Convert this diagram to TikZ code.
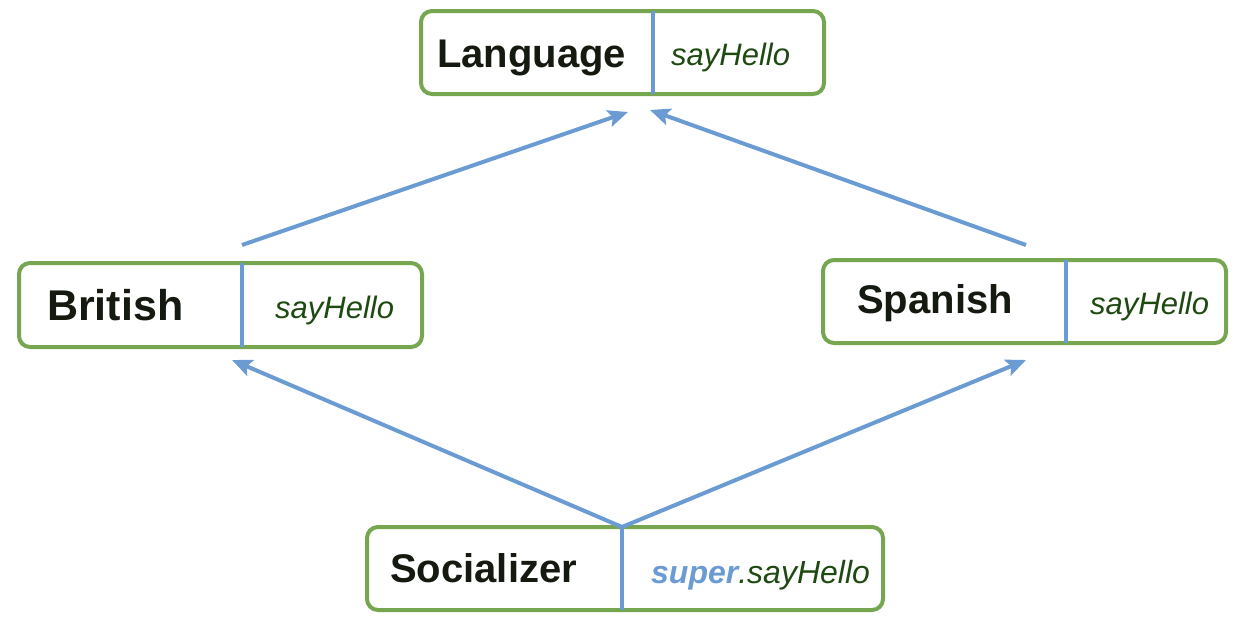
\documentclass[tikz,border=0pt]{standalone}
\usepackage{fontspec}
\setmainfont{Liberation Sans}
\usetikzlibrary{arrows.meta}
\definecolor{boxgreen}{HTML}{76A650}
\definecolor{linkblue}{HTML}{6A9BD2}
\definecolor{methgreen}{HTML}{1E4A12}
\definecolor{namedark}{HTML}{151A10}
\tikzset{
  classbox/.style={draw=boxgreen, line width=4pt, rounded corners=11pt, fill=white, inner sep=0pt},
  divider/.style={draw=linkblue, line width=4pt},
  cname/.style={inner sep=0pt, anchor=base west, text=namedark, font=\fontsize{40}{40}\selectfont\bfseries},
  mname/.style={inner sep=0pt, anchor=base west, text=methgreen, font=\fontsize{31}{31}\selectfont\itshape},
  link/.style={draw=linkblue, line width=4pt, -{Stealth[length=20pt,width=17pt,inset=4pt]}}
}
\begin{document}
\begin{tikzpicture}[x=1pt,y=-1pt]
\useasboundingbox (0,0) rectangle (1250,624);
% boxes
\node[classbox, minimum width=403pt, minimum height=83pt] (lang) at (622.5,52.5) {};
\node[classbox, minimum width=403pt, minimum height=84pt] (brit) at (220.5,305) {};
\node[classbox, minimum width=403pt, minimum height=83pt] (span) at (1024.5,301.5) {};
\node[classbox, minimum width=516pt, minimum height=83pt] (soc) at (625,568.5) {};
% dividers
\coordinate (langdt) at (653,11); \coordinate (langdb) at (653,94);
\coordinate (britdt) at (242,263); \coordinate (britdb) at (242,347);
\coordinate (spandt) at (1066,260); \coordinate (spandb) at (1066,343);
\coordinate (socdt) at (622,527); \coordinate (socdb) at (622,610);
\draw[divider] (langdt) -- (langdb);
\draw[divider] (britdt) -- (britdb);
\draw[divider] (spandt) -- (spandb);
\draw[divider] (socdt) -- (socdb);
% texts
\node[cname] (langt) at (437,67) {Language};
\node[mname] (langm) at (671,65) {sayHello};
\node[cname, font=\fontsize{43}{43}\selectfont\bfseries] (britt) at (47,320) {British};
\node[mname] (britm) at (275,318) {sayHello};
\node[cname] (spant) at (857,313) {Spanish};
\node[mname] (spanm) at (1090,314) {sayHello};
\node[cname] (soct) at (390,582) {Socializer};
\node[mname, font=\fontsize{32}{32}\selectfont\itshape] (socm) at (651,583) {\textcolor{linkblue}{\bfseries super}.sayHello};
% connectors
\coordinate (b1) at (242,245);
\coordinate (l1) at (628,112);
\coordinate (s1) at (1026,245);
\coordinate (l2) at (650,110);
\coordinate (bt) at (232,360);
\coordinate (st) at (1026,360);
\draw[link] (b1) -- (l1);
\draw[link] (s1) -- (l2);
\draw[link] (socdt) -- (bt);
\draw[link] (socdt) -- (st);
\end{tikzpicture}
\end{document}
